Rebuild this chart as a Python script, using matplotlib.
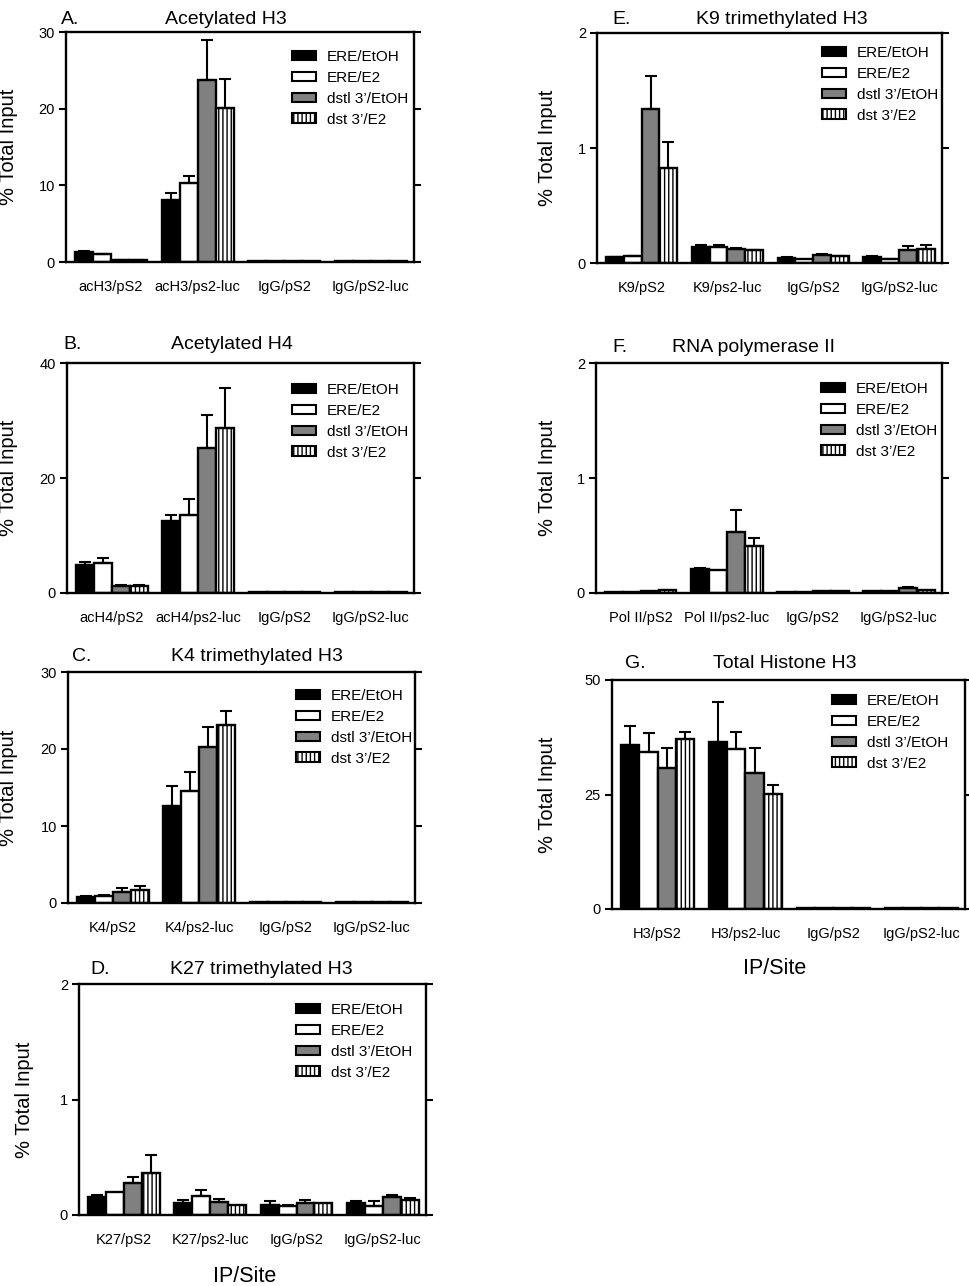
import numpy as np
import matplotlib
matplotlib.use("Agg")
import matplotlib.pyplot as plt
from matplotlib.patches import Patch

plt.rcParams['font.family'] = ['Liberation Sans', 'DejaVu Sans']
plt.rcParams['hatch.linewidth'] = 1.0
plt.rcParams['hatch.color'] = 'black'

W, H = 970, 1286

series_labels = ["ERE/EtOH", "ERE/E2", "dstl 3\u2019/EtOH", "dst 3\u2019/E2"]
series_faces = ["black", "white", "#808080", "white"]
series_hatch = [None, None, None, "||||"]

# ---- Panel A: Acetylated H3 ----
a_sites = ["acH3/pS2", "acH3/ps2-luc", "IgG/pS2", "IgG/pS2-luc"]
a_ere_etoh = [1.3, 8.1, 0.1, 0.1]
a_ere_e2 = [1.0, 10.3, 0.1, 0.1]
a_dstl_etoh = [0.25, 23.8, 0.1, 0.1]
a_dst_e2 = [0.25, 20.1, 0.1, 0.1]
a_err = [[0.1, 0.9, 0, 0], [0.05, 0.9, 0, 0], [0.05, 5.2, 0, 0], [0.05, 3.8, 0, 0]]
a_ticks = [0, 10, 20, 30]

# ---- Panel B: Acetylated H4 ----
b_sites = ["acH4/pS2", "acH4/ps2-luc", "IgG/pS2", "IgG/pS2-luc"]
b_ere_etoh = [4.8, 12.6, 0.1, 0.1]
b_ere_e2 = [5.2, 13.5, 0.1, 0.1]
b_dstl_etoh = [1.3, 25.2, 0.1, 0.1]
b_dst_e2 = [1.2, 28.7, 0.1, 0.2]
b_err = [[0.6, 0.9, 0, 0], [0.9, 2.8, 0, 0], [0.15, 5.7, 0, 0], [0.15, 7.0, 0, 0]]
b_ticks = [0, 20, 40]

# ---- Panel C: K4 trimethylated H3 ----
c_sites = ["K4/pS2", "K4/ps2-luc", "IgG/pS2", "IgG/pS2-luc"]
c_ere_etoh = [0.8, 12.6, 0.1, 0.1]
c_ere_e2 = [0.85, 14.5, 0.1, 0.1]
c_dstl_etoh = [1.45, 20.2, 0.1, 0.15]
c_dst_e2 = [1.75, 23.1, 0.1, 0.1]
c_err = [[0.1, 2.6, 0, 0], [0.15, 2.5, 0, 0], [0.5, 2.7, 0, 0], [0.45, 1.8, 0, 0]]
c_ticks = [0, 10, 20, 30]

# ---- Panel D: K27 trimethylated H3 ----
d_sites = ["K27/pS2", "K27/ps2-luc", "IgG/pS2", "IgG/pS2-luc"]
d_ere_etoh = [0.155, 0.10, 0.087, 0.10]
d_ere_e2 = [0.20, 0.165, 0.078, 0.08]
d_dstl_etoh = [0.275, 0.115, 0.10, 0.16]
d_dst_e2 = [0.36, 0.087, 0.10, 0.13]
d_err = [[0.02, 0.03, 0.03, 0.02], [0.0, 0.055, 0.009, 0.04],
         [0.055, 0.025, 0.03, 0.01], [0.16, 0.0, 0.0, 0.02]]
d_ticks = [0, 1, 2]

# ---- Panel E: K9 trimethylated H3 ----
e_sites = ["K9/pS2", "K9/ps2-luc", "IgG/pS2", "IgG/pS2-luc"]
e_ere_etoh = [0.05, 0.136, 0.043, 0.055]
e_ere_e2 = [0.058, 0.136, 0.035, 0.032]
e_dstl_etoh = [1.338, 0.124, 0.072, 0.11]
e_dst_e2 = [0.824, 0.11, 0.06, 0.124]
e_err = [[0.003, 0.017, 0.007, 0.003], [0.003, 0.023, 0.0, 0.003],
         [0.286, 0.006, 0.008, 0.035], [0.231, 0.006, 0.004, 0.035]]
e_ticks = [0, 1, 2]

# ---- Panel F: RNA polymerase II ----
f_sites = ["Pol II/pS2", "Pol II/ps2-luc", "IgG/pS2", "IgG/pS2-luc"]
f_ere_etoh = [0.01, 0.21, 0.01, 0.015]
f_ere_e2 = [0.01, 0.203, 0.01, 0.02]
f_dstl_etoh = [0.015, 0.53, 0.02, 0.04]
f_dst_e2 = [0.03, 0.406, 0.02, 0.03]
f_err = [[0, 0.005, 0, 0], [0, 0, 0, 0], [0, 0.195, 0, 0.01], [0, 0.072, 0, 0]]
f_ticks = [0, 1, 2]

# ---- Panel G: Total Histone H3 ----
g_sites = ["H3/pS2", "H3/ps2-luc", "IgG/pS2", "IgG/pS2-luc"]
g_ere_etoh = [35.7, 36.4, 0.2, 0.2]
g_ere_e2 = [34.2, 34.9, 0.2, 0.2]
g_dstl_etoh = [30.7, 29.8, 0.2, 0.2]
g_dst_e2 = [37.1, 25.1, 0.2, 0.3]
g_err = [[4.3, 8.7, 0, 0], [4.3, 3.8, 0, 0], [4.4, 5.3, 0, 0], [1.6, 1.9, 0, 0]]
g_ticks = [0, 25, 50]

panels = [
    # letter, title, sites, series, err, ticks, axes px (l,t,r,b), legend px (x, first row y),
    # letter x, title center x, title y, ylabel x
    ("A.", "Acetylated H3", a_sites, [a_ere_etoh, a_ere_e2, a_dstl_etoh, a_dst_e2], a_err, a_ticks,
     (66, 32, 414, 262), (292, 57), 61, 226, 19, 9),
    ("B.", "Acetylated H4", b_sites, [b_ere_etoh, b_ere_e2, b_dstl_etoh, b_dst_e2], b_err, b_ticks,
     (67, 363, 414, 593), (292, 390), 63, 232, 344, 9),
    ("C.", "K4 trimethylated H3", c_sites, [c_ere_etoh, c_ere_e2, c_dstl_etoh, c_dst_e2], c_err, c_ticks,
     (68, 672, 415, 903), (296, 696), 72, 257, 656, 9),
    ("D.", "K27 trimethylated H3", d_sites, [d_ere_etoh, d_ere_e2, d_dstl_etoh, d_dst_e2], d_err, d_ticks,
     (79, 984, 426, 1215), (296, 1010), 90, 261, 969, 25),
    ("E.", "K9 trimethylated H3", e_sites, [e_ere_etoh, e_ere_e2, e_dstl_etoh, e_dst_e2], e_err, e_ticks,
     (597, 33, 942, 263), (822, 53), 612, 782, 19, 548),
    ("F.", "RNA polymerase II", f_sites, [f_ere_etoh, f_ere_e2, f_dstl_etoh, f_dst_e2], f_err, f_ticks,
     (596, 363, 942, 593), (821, 389), 612, 754, 347, 548),
    ("G.", "Total Histone H3", g_sites, [g_ere_etoh, g_ere_e2, g_dstl_etoh, g_dst_e2], g_err, g_ticks,
     (612, 680, 965, 909), (832, 701), 625, 785, 663, 548),
]

fig = plt.figure(figsize=(W / 100, H / 100), dpi=100)

def fx(x):
    return x / W

def fy(y):
    return 1 - y / H

bw = 0.2075
LEG_FS = 11

for (letter, title, sites, series, errs, ticks, box, leg, lx, tcx, ty, ylx) in panels:
    l, t, r, b = box
    ax = fig.add_axes([fx(l), fy(b), (r - l) / W, (b - t) / H])
    x = np.arange(len(sites))
    for s, vals in enumerate(series):
        pos = x + (s - 1.5) * bw
        ax.bar(pos, vals, width=bw, color=series_faces[s], edgecolor='black',
               linewidth=1.7, hatch=series_hatch[s], zorder=2)
        e = np.array(errs[s])
        v = np.array(vals)
        m = e > 0
        if m.any():
            ax.errorbar(pos[m], v[m], yerr=[np.zeros(m.sum()), e[m]], fmt='none',
                        ecolor='black', elinewidth=1.5, capsize=4, capthick=1.5, zorder=3)
    ax.set_xlim(-0.52, 3.5)
    ax.set_ylim(ticks[0], ticks[-1])
    ax.set_yticks(ticks)
    ax.set_yticklabels([str(tk) for tk in ticks], fontsize=10.5)
    ax.set_xticks(x)
    ax.set_xticklabels(sites, fontsize=10.5)
    ax.tick_params(axis='x', length=0, pad=13)
    ax.tick_params(axis='y', direction='out', length=5, width=1.5, pad=3,
                   right=True, labelright=False)
    for sp in ax.spines.values():
        sp.set_linewidth(1.7)
    handles = [Patch(facecolor=series_faces[s], edgecolor='black', linewidth=1.5,
                     hatch=series_hatch[s]) for s in range(4)]
    ax.legend(handles, series_labels, loc='upper left',
              bbox_to_anchor=(fx(leg[0]), fy(leg[1] - 7)),
              bbox_transform=fig.transFigure, frameon=False, fontsize=LEG_FS,
              handlelength=1.6, handleheight=0.6, handletextpad=0.7,
              labelspacing=0.45, borderpad=0, borderaxespad=0)
    fig.text(fx(lx), fy(ty), letter, fontsize=14, ha='left', va='center')
    fig.text(fx(tcx), fy(ty), title, fontsize=14, ha='center', va='center')
    fig.text(fx(ylx), fy((t + b) / 2), "% Total Input", fontsize=14.5, rotation=90,
             ha='center', va='center')

fig.text(fx(245), fy(1277), "IP/Site", fontsize=15.5, ha='center', va='center')
fig.text(fx(775), fy(968), "IP/Site", fontsize=15.5, ha='center', va='center')

fig.savefig("out.png", dpi=100)
